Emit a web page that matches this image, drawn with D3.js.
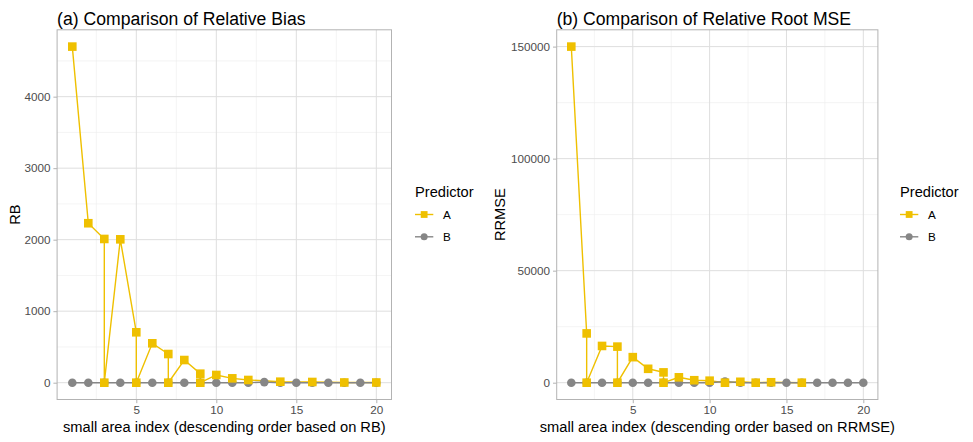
<!DOCTYPE html>
<html>
<head>
<meta charset="utf-8">
<script src="https://cdn.jsdelivr.net/npm/d3@7"></script>
<style>
  html, body { margin: 0; padding: 0; background: #fff; }
  svg { display: block; font-family: "Liberation Sans", Arial, Helvetica, sans-serif; }
</style>
</head>
<body>
<svg id="chart" width="973" height="442"></svg>
<script>
// ---------------- DATA ----------------
const seriesNames = ["A", "B"];
const seriesColors = ["#EFC000", "#868686"];

// Panel (a): Relative Bias
const rbA_index = [1, 2, 3, 3, 4, 5, 5, 6, 7, 7, 8, 9, 9, 10, 11, 12, 14, 16, 18, 20];
const rbA_value = [4700, 2230, 2010, 0, 2005, 705, 0, 551, 401, 0, 317, 126, 0, 108, 61, 38, 14, 10, 3, 3];
const rbB_index = [1, 2, 3, 4, 5, 6, 7, 8, 9, 10, 11, 12, 13, 14, 15, 16, 17, 18, 19, 20];
const rbB_value = [0, 0, 0, 0, 0, 0, 0, 0, 0, 0, 0, 0, 8, 0, 0, 0, 0, 0, 0, 0];

// Panel (b): Relative Root MSE
const rrA_index = [1, 2, 2, 3, 4, 4, 5, 6, 7, 7, 8, 9, 10, 11, 12, 13, 14, 16];
const rrA_value = [150000, 22000, 0, 16400, 16100, 0, 11400, 6200, 4600, 0, 2400, 1100, 900, 0, 400, 0, 200, 0];
const rrB_index = [1, 2, 3, 4, 5, 6, 7, 8, 9, 10, 11, 12, 13, 14, 15, 16, 17, 18, 19, 20];
const rrB_value = [0, 0, 0, 0, 0, 0, 0, 0, 0, 0, 500, 0, 0, 0, 0, 0, 0, 0, 0, 0];

const xTicks = [5, 10, 15, 20];
const xMinorTicks = [2.5, 7.5, 12.5, 17.5];
const rbYTicks = [0, 1000, 2000, 3000, 4000];
const rbYMinor = [500, 1500, 2500, 3500, 4500];
const rrYTicks = [0, 50000, 100000, 150000];
const rrYMinor = [25000, 75000, 125000];

const panels = [
  {
    title: "(a) Comparison of Relative Bias",
    yTitle: "RB",
    xTitle: "small area index (descending order based on RB)",
    A: rbA_index.map((x, i) => ({x, y: rbA_value[i]})),
    B: rbB_index.map((x, i) => ({x, y: rbB_value[i]})),
    yTicks: rbYTicks, yMinor: rbYMinor,
    left: 57.1, right: 391.5, yTitleX: 20, legendX: 415
  },
  {
    title: "(b) Comparison of Relative Root MSE",
    yTitle: "RRMSE",
    xTitle: "small area index (descending order based on RRMSE)",
    A: rrA_index.map((x, i) => ({x, y: rrA_value[i]})),
    B: rrB_index.map((x, i) => ({x, y: rrB_value[i]})),
    yTicks: rrYTicks, yMinor: rrYMinor,
    left: 556.7, right: 877.9, yTitleX: 505, legendX: 900
  }
];

// ---------------- DRAW ----------------
const svg = d3.select("#chart");
const plotTop = 29.8, plotBottom = 399.5;
const gridMajor = "#DEDEDE", gridMinor = "#EDEDED", borderCol = "#B3B3B3";

function expand(lo, hi) { const d = (hi - lo) * 0.05; return [lo - d, hi + d]; }

panels.forEach(p => {
  const all = p.A.concat(p.B);
  const x = d3.scaleLinear().domain(expand(d3.min(all, d => d.x), d3.max(all, d => d.x))).range([p.left, p.right]);
  const y = d3.scaleLinear().domain(expand(d3.min(all, d => d.y), d3.max(all, d => d.y))).range([plotBottom, plotTop]);
  const g = svg.append("g");

  // minor grid
  g.selectAll(".vminor").data(xMinorTicks).join("line")
    .attr("x1", d => x(d)).attr("x2", d => x(d)).attr("y1", plotTop).attr("y2", plotBottom)
    .attr("stroke", gridMinor).attr("stroke-width", 0.6);
  g.selectAll(".hminor").data(p.yMinor).join("line")
    .attr("y1", d => y(d)).attr("y2", d => y(d)).attr("x1", p.left).attr("x2", p.right)
    .attr("stroke", gridMinor).attr("stroke-width", 0.6);
  // major grid
  g.selectAll(".vmajor").data(xTicks).join("line")
    .attr("x1", d => x(d)).attr("x2", d => x(d)).attr("y1", plotTop).attr("y2", plotBottom)
    .attr("stroke", gridMajor).attr("stroke-width", 1);
  g.selectAll(".hmajor").data(p.yTicks).join("line")
    .attr("y1", d => y(d)).attr("y2", d => y(d)).attr("x1", p.left).attr("x2", p.right)
    .attr("stroke", gridMajor).attr("stroke-width", 1);

  // axes
  const xAxis = d3.axisBottom(x).tickValues(xTicks).tickSize(3.7).tickPadding(2.5).tickFormat(d3.format("d"));
  const gx = g.append("g").attr("transform", `translate(0,${plotBottom})`).call(xAxis);
  const yAxis = d3.axisLeft(y).tickValues(p.yTicks).tickSize(3.7).tickPadding(2.9).tickFormat(d3.format("d"));
  const gy = g.append("g").attr("transform", `translate(${p.left},0)`).call(yAxis);
  [gx, gy].forEach(a => {
    a.select(".domain").remove();
    a.selectAll(".tick line").attr("stroke", borderCol);
    a.selectAll(".tick text").attr("fill", "#4D4D4D").style("font-size", "11.7px")
      .style("font-family", "'Liberation Sans', Arial, sans-serif");
  });

  // lines
  const line = d3.line().x(d => x(d.x)).y(d => y(d.y));
  g.append("path").datum(p.A).attr("d", line).attr("fill", "none")
    .attr("stroke", seriesColors[0]).attr("stroke-width", 1.4);
  g.append("path").datum(p.B).attr("d", line).attr("fill", "none")
    .attr("stroke", seriesColors[1]).attr("stroke-width", 1.4);

  // points
  g.selectAll(".ptB").data(p.B).join("circle")
    .attr("cx", d => x(d.x)).attr("cy", d => y(d.y)).attr("r", 4.3)
    .attr("fill", seriesColors[1]);
  g.selectAll(".ptA").data(p.A).join("rect")
    .attr("x", d => x(d.x) - 4.3).attr("y", d => y(d.y) - 4.3)
    .attr("width", 8.6).attr("height", 8.6).attr("fill", seriesColors[0]);

  // panel border
  g.append("rect").attr("x", p.left).attr("y", plotTop)
    .attr("width", p.right - p.left).attr("height", plotBottom - plotTop)
    .attr("fill", "none").attr("stroke", borderCol).attr("stroke-width", 1);

  // titles
  g.append("text").attr("x", p.left).attr("y", 24.5).text(p.title)
    .style("font-size", "17.6px").attr("fill", "#000");
  g.append("text").attr("x", (p.left + p.right) / 2).attr("y", 432).attr("text-anchor", "middle")
    .text(p.xTitle).style("font-size", "14.67px").attr("fill", "#000");
  g.append("text").attr("transform", `translate(${p.yTitleX},${(plotTop + plotBottom) / 2}) rotate(-90)`)
    .attr("text-anchor", "middle").text(p.yTitle).style("font-size", "14.67px").attr("fill", "#000");

  // legend
  const lg = g.append("g").attr("transform", `translate(${p.legendX},0)`);
  lg.append("text").attr("x", 0).attr("y", 197).text("Predictor").style("font-size", "14.67px").attr("fill", "#000");
  const keyY = [214.5, 236.8];
  seriesNames.forEach((name, i) => {
    lg.append("line").attr("x1", 0).attr("x2", 18.3).attr("y1", keyY[i]).attr("y2", keyY[i])
      .attr("stroke", seriesColors[i]).attr("stroke-width", 1.4);
    if (i === 0) {
      lg.append("rect").attr("x", 9.15 - 3.4).attr("y", keyY[i] - 3.4).attr("width", 6.8).attr("height", 6.8)
        .attr("fill", seriesColors[i]);
    } else {
      lg.append("circle").attr("cx", 9.15).attr("cy", keyY[i]).attr("r", 3.5).attr("fill", seriesColors[i]);
    }
    lg.append("text").attr("x", 28).attr("y", keyY[i] + 4.2).text(name)
      .style("font-size", "11.7px").attr("fill", "#000");
  });
});
</script>
</body>
</html>
